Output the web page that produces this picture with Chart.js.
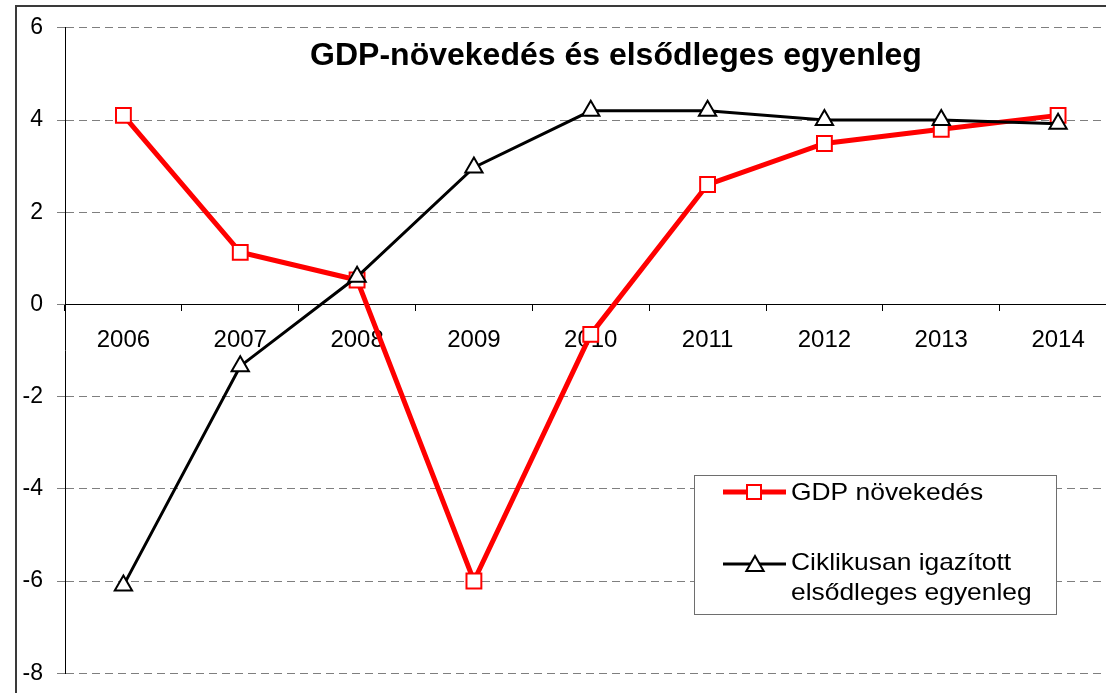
<!DOCTYPE html>
<html>
<head>
<meta charset="utf-8">
<script src="https://cdn.jsdelivr.net/npm/chart.js@4/dist/chart.umd.min.js"></script>
<style>
  html, body { margin: 0; padding: 0; background: #fff; overflow: hidden; width: 1106px; height: 693px; }
  #wrap { position: absolute; left: 0; top: 0; width: 1130px; height: 701px; }
</style>
</head>
<body>
<div id="wrap"><canvas id="c" width="1130" height="701"></canvas></div>
<script>
const categories = ['2006', '2007', '2008', '2009', '2010', '2011', '2012', '2013', '2014'];
const gdpGrowth = [4.1, 1.13, 0.53, -6.0, -0.65, 2.6, 3.49, 3.8, 4.1];
const adjustedPrimaryBalance = [-6.1, -1.34, 0.6, 2.97, 4.2, 4.2, 4.0, 4.0, 3.92];
const yMin = -8;
const yMax = 6;
const yStep = 2;
const chartTitle = 'GDP-növekedés és elsődleges egyenleg';
const seriesNames = ['GDP növekedés', 'Ciklikusan igazított elsődleges egyenleg'];
const legendLines2 = ['Ciklikusan igazított', 'elsődleges egyenleg'];

const FONT = "'Liberation Sans', Arial, sans-serif";

function drawTriangle(ctx, x, y, r) {
  ctx.beginPath();
  ctx.moveTo(x, y - r);
  ctx.lineTo(x + r * Math.sqrt(3) / 2, y + r / 2);
  ctx.lineTo(x - r * Math.sqrt(3) / 2, y + r / 2);
  ctx.closePath();
  ctx.fill();
  ctx.stroke();
}

const decorPlugin = {
  id: 'decor',
  beforeDraw(chart) {
    const ctx = chart.ctx;
    ctx.save();
    ctx.fillStyle = '#ffffff';
    ctx.fillRect(0, 0, chart.width, chart.height);
    ctx.strokeStyle = '#3a3a3a';
    ctx.lineWidth = 2;
    ctx.strokeRect(16, 6, 1300, 1000);
    ctx.restore();
  },
  afterDraw(chart) {
    const ctx = chart.ctx;
    ctx.save();
    // Title
    ctx.fillStyle = '#000';
    ctx.font = "bold 32px " + FONT;
    ctx.textAlign = 'center';
    ctx.textBaseline = 'alphabetic';
    ctx.fillText(chartTitle, 616, 65);

    // Legend box
    ctx.fillStyle = '#fff';
    ctx.fillRect(694, 475, 362, 139);
    ctx.strokeStyle = '#6e6e6e';
    ctx.lineWidth = 1;
    ctx.strokeRect(694.5, 475.5, 362, 139);

    // GDP entry
    ctx.strokeStyle = '#ff0000';
    ctx.lineWidth = 5;
    ctx.beginPath();
    ctx.moveTo(723, 492);
    ctx.lineTo(786, 492);
    ctx.stroke();
    ctx.fillStyle = '#fff';
    ctx.lineWidth = 2;
    ctx.fillRect(747, 485, 14, 14);
    ctx.strokeRect(747, 485, 14, 14);

    // Balance entry
    ctx.strokeStyle = '#000';
    ctx.lineWidth = 3;
    ctx.beginPath();
    ctx.moveTo(723, 564);
    ctx.lineTo(786, 564);
    ctx.stroke();
    ctx.lineWidth = 2;
    ctx.fillStyle = '#fff';
    drawTriangle(ctx, 755, 566, 10);

    // Legend text
    ctx.fillStyle = '#000';
    ctx.font = "24px " + FONT;
    ctx.textAlign = 'left';
    ctx.textBaseline = 'alphabetic';
    const sx = 1.1;
    const drawT = (t, x, y) => {
      ctx.save();
      ctx.translate(x, y);
      ctx.scale(sx, 1);
      ctx.fillText(t, 0, 0);
      ctx.restore();
    };
    drawT(seriesNames[0], 791, 500);
    drawT(legendLines2[0], 791, 570);
    drawT(legendLines2[1], 791, 600);
    ctx.restore();
  }
};

new Chart(document.getElementById('c'), {
  type: 'line',
  data: {
    labels: categories,
    datasets: [
      {
        label: seriesNames[0],
        data: gdpGrowth,
        borderColor: '#ff0000',
        borderWidth: 5,
        pointStyle: 'rect',
        pointRadius: 10.5,
        pointHoverRadius: 10.5,
        pointBorderWidth: 2,
        pointBorderColor: '#ff0000',
        pointBackgroundColor: '#ffffff',
        tension: 0,
        fill: false,
        order: 1
      },
      {
        label: seriesNames[1],
        data: adjustedPrimaryBalance,
        borderColor: '#000000',
        borderWidth: 3,
        pointStyle: 'triangle',
        pointRadius: 10,
        pointHoverRadius: 10,
        pointBorderWidth: 2,
        pointBorderColor: '#000000',
        pointBackgroundColor: '#ffffff',
        tension: 0,
        fill: false,
        order: 0
      }
    ]
  },
  options: {
    responsive: false,
    animation: false,
    devicePixelRatio: 1,
    layout: { padding: { left: 0, right: 13.5, top: 27, bottom: 13 } },
    plugins: {
      legend: { display: false },
      tooltip: { enabled: false },
      title: { display: false }
    },
    scales: {
      x: {
        type: 'category',
        position: { y: 0 },
        offset: true,
        grid: {
          offset: true,
          drawOnChartArea: false,
          drawTicks: true,
          tickLength: 6,
          color: '#000',
          lineWidth: 1
        },
        border: { display: true, color: '#000', width: 1 },
        ticks: {
          color: '#000',
          font: { family: FONT, size: 24 },
          padding: 16,
          maxRotation: 0,
          autoSkip: false
        }
      },
      y: {
        min: yMin,
        max: yMax,
        afterFit(scale) { scale.width = 65; },
        grid: {
          color: (c) => (c.tick && c.tick.value === 0) ? 'rgba(0,0,0,0)' : '#7f7f7f',
          tickColor: '#7f7f7f',
          lineWidth: 1,
          tickLength: 8,
          drawTicks: true
        },
        border: { display: true, color: '#000', width: 1, dash: [8, 5] },
        ticks: {
          stepSize: yStep,
          color: '#000',
          font: { family: FONT, size: 23 },
          padding: 14
        }
      }
    }
  },
  plugins: [decorPlugin]
});
</script>
</body>
</html>
